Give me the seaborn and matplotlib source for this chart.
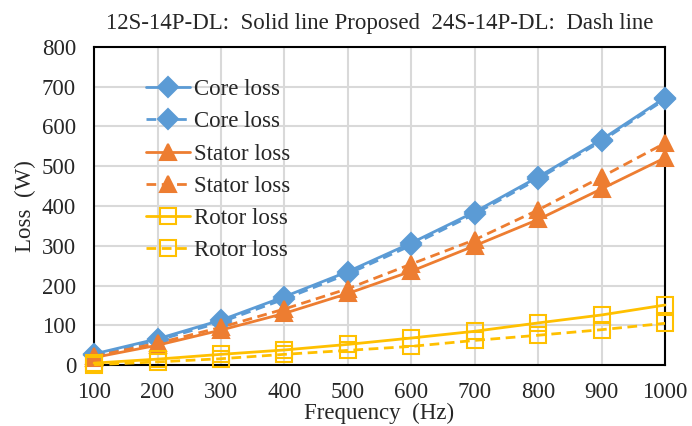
import pandas as pd
import matplotlib.pyplot as plt
import seaborn as sns

freq = [100, 200, 300, 400, 500, 600, 700, 800, 900, 1000]

core_12s = [28, 66, 113, 172, 235, 307, 385, 473, 567, 672]
core_24s = [25, 62, 108, 166, 229, 301, 380, 468, 563, 668]
stator_12s = [19, 50, 88, 130, 180, 236, 300, 366, 443, 521]
stator_24s = [22, 55, 95, 141, 192, 254, 315, 390, 473, 558]
rotor_12s = [5, 15, 27, 38, 52, 68, 85, 106, 126, 151]
rotor_24s = [1, 8, 16, 27, 37, 47, 62, 75, 89, 105]

series = [
    ('Core loss', core_12s, '#5B9BD5', 'D', '-'),
    ('Core loss', core_24s, '#5B9BD5', 'D', '--'),
    ('Stator loss', stator_12s, '#ED7D31', '^', '-'),
    ('Stator loss', stator_24s, '#ED7D31', '^', '--'),
    ('Rotor loss', rotor_12s, '#FFC000', 's', '-'),
    ('Rotor loss', rotor_24s, '#FFC000', 's', '--'),
]

sns.set_style('white')
plt.rcParams['font.family'] = ['Liberation Serif', 'DejaVu Serif']

fig = plt.figure(figsize=(6.92, 4.26), dpi=100)
ax = fig.add_axes([0.136, 0.143, 0.825, 0.747])

sizes = {'D': 10, '^': 11, 's': 12}
for label, vals, color, marker, ls in series:
    df = pd.DataFrame({'f': freq, 'loss': vals})
    filled = marker != 's'
    sns.lineplot(
        data=df, x='f', y='loss', ax=ax,
        color=color, linewidth=2,
        linestyle=ls, dashes=False,
        marker=marker, markersize=sizes[marker],
        markerfacecolor=color if filled else 'none',
        markeredgecolor=color, markeredgewidth=1.5,
        label=label, clip_on=False, zorder=3,
    )
    if ls == '--':
        ax.lines[-1].set_dashes((3.5, 2))

ax.set_xlim(100, 1000)
ax.set_ylim(0, 800)
ax.set_xticks(freq)
ax.set_yticks(range(0, 801, 100))
ax.grid(True, color='#D9D9D9', linewidth=1.5)
ax.set_axisbelow(True)
for s in ax.spines.values():
    s.set_color('black')
    s.set_linewidth(1.5)
ax.tick_params(labelsize=16.5, length=0)
ax.tick_params(axis='x', pad=12)
ax.tick_params(axis='y', pad=13)
ax.set_xlabel('Frequency  (Hz)', fontsize=16.5)
ax.xaxis.set_label_coords(0.5, -0.119)
ax.set_ylabel('Loss  (W)', fontsize=16.5, labelpad=4)
ax.set_title('12S-14P-DL:  Solid line Proposed  24S-14P-DL:  Dash line', fontsize=16.5, pad=13)

leg = ax.legend(loc='upper left', bbox_to_anchor=(0.075, 0.928), frameon=False,
                fontsize=16.5, handlelength=1.9, labelspacing=0.49, handletextpad=0.2,
                borderaxespad=0)

plt.savefig('out.png', dpi=100)
